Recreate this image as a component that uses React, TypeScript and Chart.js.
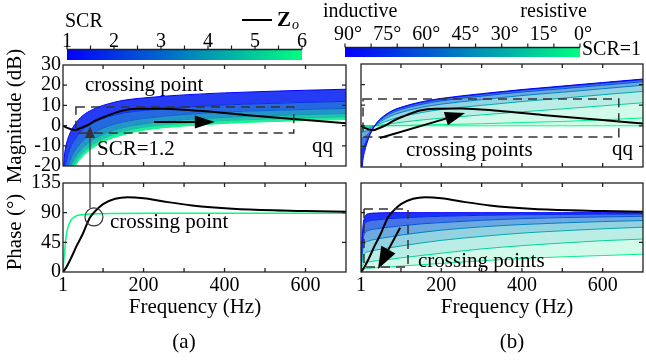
import React, { useEffect, useRef } from 'react';
import { Chart, registerables } from 'chart.js';
Chart.register(...registerables);

// ---------------- data ----------------
const freqTicks = [1, 100, 200, 300, 400, 500, 600, 700];
const freqLabels = [1, 200, 400, 600];
const magTicks = [-20, -10, 0, 10, 20, 30];
const phaseTicks = [0, 45, 90, 135];

const scrLevels = [1, 2, 3, 4, 5, 6];
const scrBarTicks = [1, 2, 3, 4, 5, 6];
const scrBarMinor = [1, 1.5, 2, 2.5, 3, 3.5, 4, 4.5, 5, 5.5, 6];
const angleLevels = [90, 75, 60, 45, 30, 15, 5, 0];
const angleBarTicks = [90, 75, 60, 45, 30, 15, 0];
const angleBarMinor = [90, 80, 70, 60, 50, 40, 30, 20, 10, 0];

// (a) magnitude, one curve per SCR
const freqMagA = [1, 5, 10, 20, 30, 50, 75, 100, 150, 200, 300, 400, 500, 600, 700];
const magScr1 = [-25, -14, -8.6, -3, 0.5, 5, 8, 10, 12.5, 13.7, 15.2, 16.2, 16.9, 17.5, 18];
const magScr2 = [-35, -23, -17, -10.5, -7, -2, 1.3, 3.5, 6.2, 7.5, 9.1, 10.2, 10.9, 11.5, 12];
const magScr3 = [-40, -30, -23, -16.5, -12.5, -7.5, -3.8, -1.2, 1.8, 3.5, 5.5, 6.7, 7.4, 8, 8.5];
const magScr4 = [-45, -35, -28, -20, -16, -11, -7, -4.3, -1, 0.8, 2.9, 4.1, 4.9, 5.5, 6];
const magScr5 = [-48, -38, -31, -23, -18.5, -13.3, -9.3, -6.4, -2.9, -0.8, 1.2, 2.5, 3.2, 3.8, 4.3];
const magScr6 = [-50, -40, -34, -25, -20.5, -15, -11, -8, -4.5, -2.3, -0.2, 1.1, 1.9, 2.5, 3];

// (a) phase of the grid impedance (all SCR overlap)
const freqPhaseA = [1, 3, 5, 8, 12, 20, 30, 50, 100, 200, 400, 700];
const phaseGridA = [2, 18, 30, 50, 65, 78, 84, 87, 88.5, 89, 89, 89];

// (b) magnitude, one curve per impedance angle (SCR = 1)
const freqMagB = [1, 5, 10, 20, 35, 50, 75, 100, 150, 200, 300, 400, 500, 600, 700];
const magAng90 = [-30, -18, -12.5, -6, 0, 3.5, 7, 9, 11.6, 13.3, 15.6, 17.6, 19.3, 21, 22.7];
const magAng75 = [-11.7, -10.9, -9.2, -5.2, 0, 3.4, 6.8, 8.7, 11.3, 13, 15.3, 17.3, 19, 20.7, 22.4];
const magAng60 = [-6, -5.8, -5.4, -3.6, 0, 2.9, 6, 7.9, 10.4, 12.1, 14.4, 16.4, 18, 19.7, 21.4];
const magAng45 = [-3, -2.9, -2.8, -2, 0, 2.1, 4.8, 6.5, 8.9, 10.5, 12.7, 14.7, 16.3, 18, 19.7];
const magAng30 = [-1.2, -1.2, -1.2, -0.9, 0, 1.2, 3, 4.4, 6.4, 7.9, 9.9, 11.8, 13.4, 15.1, 16.7];
const magAng15 = [-0.3, -0.3, -0.3, -0.2, 0, 0.4, 1, 1.7, 2.8, 3.7, 5.3, 6.8, 8.2, 9.7, 11.2];
const magAng5 = [0, 0, 0, 0, 0, 0, 0.1, 0.2, 0.4, 0.6, 1, 1.6, 2.1, 2.9, 3.8];
const magAng0 = [0, 0, 0, 0, 0, 0, 0, 0, 0, 0, 0, 0, 0, 0, 0];

// (b) phase, one curve per impedance angle
const freqPhaseB = [1, 3, 6, 10, 20, 40, 70, 100, 150, 200, 300, 400, 500, 600, 700];
const phAng90 = [3, 40, 70, 83, 88.5, 89.5, 90, 90, 90, 90, 90, 90, 90, 90, 90];
const phAng75 = [3, 35, 60, 72, 77, 79, 81, 82, 83.5, 84.5, 86, 86.8, 87.3, 87.7, 88];
const phAng60 = [2, 28, 48, 58, 63, 65.5, 68, 70, 73, 75, 78.5, 81, 82.5, 83.5, 84.5];
const phAng45 = [2, 20, 35, 43, 47, 50, 53, 56, 60, 63.5, 68.5, 72, 74.5, 76.5, 78];
const phAng30 = [1, 13, 23, 28, 31, 33.5, 36.5, 39.5, 44, 48, 54, 59, 62.5, 65.5, 68];
const phAng15 = [0.5, 7, 11, 14, 15.5, 17, 19, 21.5, 25, 28.5, 35, 40, 44, 47.5, 50];
const phAng5 = [0.2, 2, 4, 5, 5.5, 6.5, 7.5, 9, 11, 13, 17, 20.5, 23, 25, 27];
const phAng0 = [0, 0, 0, 0, 0, 0, 0, 0, 0, 0, 0, 0, 0, 0, 0];

// converter output impedance Zo
const freqZo = [1, 10, 30, 45, 63, 80, 105, 147, 186, 250, 340, 450, 585, 700];
const zoMag = [0, -1, -2.2, -1.2, 0.3, 2.3, 4.5, 7.4, 8.3, 8.4, 7.3, 5.3, 3, 1.1];
const freqZoPh = [1, 10, 20, 35, 50, 67, 80, 100, 130, 160, 200, 260, 320, 420, 520, 600, 700];
const zoPhase = [0, 8, 20, 40, 58, 82, 92, 103, 111, 113.5, 112, 106, 101, 96, 93.5, 92.5, 91.5];

// ---------------- layout / style ----------------
const W = 646;
const H = 360;
const FONT = '"Liberation Serif", "Times New Roman", Times, serif';
const Y_W = 40;
const X_H = 30;
type Area = { l: number; t: number; r: number; b: number };
const AREA_A_TOP: Area = { l: 63, t: 65, r: 346, b: 166 };
const AREA_A_BOT: Area = { l: 63, t: 183, r: 346, b: 272 };
const AREA_B_TOP: Area = { l: 361, t: 64, r: 643, b: 167 };
const AREA_B_BOT: Area = { l: 361, t: 183, r: 643, b: 272 };

const cmap = (t: number, a = 1) =>
  `rgba(0,${Math.round(255 * t)},${Math.round(255 - 127 * t)},${a})`;

const pts = (xs: number[], ys: number[]) => xs.map((x, i) => ({ x, y: ys[i] }));

const alphaDense = (_t: number) => 0.85;
const alphaSparse = (t: number) => Math.max(0.18, 0.95 - 0.9 * t);

function fanDatasets(
  xs: number[],
  curves: number[][],
  ts: number[],
  fillLast: boolean,
  alphaOf: (t: number) => number
) {
  return curves.map((ys, i) => {
    const tMid = i === 0 ? ts[0] : (ts[i] + ts[i - 1]) / 2;
    const doFill = i > 0 && (fillLast || i < curves.length - 1);
    return {
      data: pts(xs, ys),
      borderColor: cmap(ts[i]),
      borderWidth: 1,
      pointRadius: 0,
      cubicInterpolationMode: 'monotone',
      fill: doFill ? '-1' : false,
      backgroundColor: cmap(tMid, alphaOf(tMid)),
      order: 1,
    };
  });
}

function zoDataset(xs: number[], ys: number[]) {
  return {
    data: pts(xs, ys),
    borderColor: '#000',
    borderWidth: 2,
    pointRadius: 0,
    cubicInterpolationMode: 'monotone',
    fill: false,
    order: 0,
  };
}

function drawFrame(chart: any) {
  const { ctx, chartArea: a, scales } = chart;
  ctx.save();
  ctx.strokeStyle = '#222';
  ctx.lineWidth = 1.3;
  ctx.beginPath();
  for (const t of scales.x.ticks) {
    const p = scales.x.getPixelForValue(t.value);
    if (p <= a.left + 1 || p >= a.right - 1) continue;
    ctx.moveTo(p, a.bottom);
    ctx.lineTo(p, a.bottom - 4);
    ctx.moveTo(p, a.top);
    ctx.lineTo(p, a.top + 4);
  }
  for (const t of scales.y.ticks) {
    const p = scales.y.getPixelForValue(t.value);
    if (p <= a.top + 1 || p >= a.bottom - 1) continue;
    ctx.moveTo(a.left, p);
    ctx.lineTo(a.left + 4, p);
    ctx.moveTo(a.right, p);
    ctx.lineTo(a.right - 4, p);
  }
  ctx.stroke();
  ctx.strokeRect(a.left, a.top, a.right - a.left, a.bottom - a.top);
  ctx.restore();
}

const px = (chart: any, x: number, y: number): [number, number] => [
  chart.scales.x.getPixelForValue(x),
  chart.scales.y.getPixelForValue(y),
];

function dashedBox(chart: any, x0: number, x1: number, y0: number, y1: number) {
  const ctx = chart.ctx;
  const [a, b] = px(chart, x0, y1);
  const [c, d] = px(chart, x1, y0);
  ctx.save();
  ctx.setLineDash([9, 6]);
  ctx.strokeStyle = '#333';
  ctx.lineWidth = 1.5;
  ctx.strokeRect(a, b, c - a, d - b);
  ctx.restore();
}

function arrow(ctx: any, x0: number, y0: number, x1: number, y1: number, head: number, half: number, lw: number, color: string) {
  const ang = Math.atan2(y1 - y0, x1 - x0);
  const bx = x1 - head * Math.cos(ang);
  const by = y1 - head * Math.sin(ang);
  ctx.save();
  ctx.strokeStyle = color;
  ctx.fillStyle = color;
  ctx.lineWidth = lw;
  ctx.beginPath();
  ctx.moveTo(x0, y0);
  ctx.lineTo(bx, by);
  ctx.stroke();
  ctx.beginPath();
  ctx.moveTo(x1, y1);
  ctx.lineTo(bx + half * Math.sin(ang), by - half * Math.cos(ang));
  ctx.lineTo(bx - half * Math.sin(ang), by + half * Math.cos(ang));
  ctx.closePath();
  ctx.fill();
  ctx.restore();
}

function text(ctx: any, s: string, x: number, y: number, size: number, align = 'left', style = '') {
  ctx.save();
  ctx.font = `${style} ${size}px ${FONT}`;
  ctx.textAlign = align;
  ctx.textBaseline = 'alphabetic';
  ctx.fillStyle = '#000';
  ctx.fillText(s, x, y);
  ctx.restore();
}

function vtext(ctx: any, s: string, x: number, y: number, size: number) {
  ctx.save();
  ctx.translate(x, y);
  ctx.rotate(-Math.PI / 2);
  ctx.font = `${size}px ${FONT}`;
  ctx.textAlign = 'center';
  ctx.textBaseline = 'middle';
  ctx.fillStyle = '#000';
  ctx.fillText(s, 0, 0);
  ctx.restore();
}

function colorBar(ctx: any, x0: number, x1: number, y0: number, y1: number) {
  ctx.save();
  const g = ctx.createLinearGradient(x0, 0, x1, 0);
  g.addColorStop(0, cmap(0));
  g.addColorStop(0.5, cmap(0.5));
  g.addColorStop(1, cmap(1));
  ctx.fillStyle = g;
  ctx.fillRect(x0, y0, x1 - x0, y1 - y0);
  ctx.strokeStyle = '#222';
  ctx.lineWidth = 1.3;
  ctx.beginPath();
  ctx.moveTo(x0, y0);
  ctx.lineTo(x1, y0);
  ctx.stroke();
  ctx.restore();
}

function barTicks(ctx: any, xs: number[], y: number) {
  ctx.save();
  ctx.strokeStyle = '#222';
  ctx.lineWidth = 1.2;
  ctx.beginPath();
  xs.forEach((x) => {
    ctx.moveTo(x, y);
    ctx.lineTo(x, y - 4);
  });
  ctx.stroke();
  ctx.restore();
}

function buildConfig(o: {
  area: Area;
  datasets: any[];
  yMin: number;
  yMax: number;
  yTicks: number[];
  showY: boolean;
  showX: boolean;
  draw: (chart: any) => void;
}) {
  const a = o.area;
  const tickFont = { family: FONT, size: 20 };
  return {
    type: 'line',
    data: { datasets: o.datasets },
    options: {
      responsive: false,
      maintainAspectRatio: false,
      animation: false,
      events: [],
      layout: { padding: { left: a.l - Y_W, top: a.t, right: W - a.r, bottom: H - a.b - X_H } },
      plugins: { legend: { display: false }, tooltip: { enabled: false } },
      scales: {
        x: {
          type: 'linear',
          min: 1,
          max: 700,
          afterBuildTicks: (s: any) => {
            s.ticks = freqTicks.map((v) => ({ value: v }));
          },
          afterFit: (s: any) => {
            s.height = X_H;
          },
          grid: { display: false, drawTicks: false },
          border: { display: false },
          ticks: {
            display: o.showX,
            autoSkip: false,
            maxRotation: 0,
            padding: 2,
            font: tickFont,
            color: '#000',
            callback: (v: number) => (freqLabels.includes(v) ? String(v) : ''),
          },
        },
        y: {
          type: 'linear',
          min: o.yMin,
          max: o.yMax,
          afterBuildTicks: (s: any) => {
            s.ticks = o.yTicks.map((v) => ({ value: v }));
          },
          afterFit: (s: any) => {
            s.width = Y_W;
          },
          grid: { display: false, drawTicks: false },
          border: { display: false },
          ticks: {
            display: o.showY,
            autoSkip: false,
            padding: 2,
            font: tickFont,
            color: '#000',
            callback: (v: number) => String(v),
          },
        },
      },
    },
    plugins: [
      {
        id: 'decor',
        afterDatasetsDraw(chart: any) {
          o.draw(chart);
          drawFrame(chart);
        },
      },
    ],
  } as any;
}

export default function App() {
  const c1 = useRef<HTMLCanvasElement>(null);
  const c2 = useRef<HTMLCanvasElement>(null);
  const c3 = useRef<HTMLCanvasElement>(null);
  const c4 = useRef<HTMLCanvasElement>(null);

  useEffect(() => {
    const scrT = scrLevels.map((s) => (s - 1) / 5);
    const angT = angleLevels.map((a) => (90 - a) / 90);

    // ---- (a) magnitude ----
    const aTop = new Chart(
      c1.current as HTMLCanvasElement,
      buildConfig({
        area: AREA_A_TOP,
        datasets: [
          ...fanDatasets(freqMagA, [magScr1, magScr2, magScr3, magScr4, magScr5, magScr6], scrT, true, alphaDense),
          zoDataset(freqZo, zoMag),
        ],
        yMin: -20,
        yMax: 30,
        yTicks: magTicks,
        showY: true,
        showX: false,
        draw: (chart) => {
          const ctx = chart.ctx;
          dashedBox(chart, 33, 571, -3.7, 9.2);
          const [ax0, ay] = px(chart, 226, 1.8);
          const [ax1] = px(chart, 376, 1.8);
          arrow(ctx, ax0, ay, ax1, ay, 20, 6.5, 2, '#000');
          text(ctx, 'crossing point', 85, 91, 21);
          text(ctx, 'SCR=1.2', 97, 155, 21);
          text(ctx, 'qq', 312, 152, 21);
          vtext(ctx, 'Magnitude (dB)', 15, 116, 21);
          // SCR colour bar
          const bx0 = 67;
          const bx1 = 302;
          colorBar(ctx, bx0, bx1, 49.5, 60);
          const sx = (v: number) => bx0 + ((v - 1) / 5) * (bx1 - bx0);
          barTicks(ctx, scrBarMinor.map(sx), 49.5);
          scrBarTicks.forEach((v) => text(ctx, String(v), sx(v), 47, 20, 'center'));
          text(ctx, 'SCR', 65, 27, 20);
          // legend Zo
          ctx.save();
          ctx.strokeStyle = '#000';
          ctx.lineWidth = 2;
          ctx.beginPath();
          ctx.moveTo(242, 20);
          ctx.lineTo(272, 20);
          ctx.stroke();
          ctx.restore();
          text(ctx, 'Z', 277, 26, 21, 'left', 'bold');
          text(ctx, 'o', 292, 29, 14, 'left', 'italic');
        },
      })
    );

    // ---- (a) phase ----
    const aBot = new Chart(
      c2.current as HTMLCanvasElement,
      buildConfig({
        area: AREA_A_BOT,
        datasets: [
          {
            data: pts(freqPhaseA, phaseGridA),
            borderColor: cmap(1),
            borderWidth: 1.5,
            pointRadius: 0,
            cubicInterpolationMode: 'monotone',
            fill: false,
            order: 1,
          },
          zoDataset(freqZoPh, zoPhase),
        ],
        yMin: 0,
        yMax: 135,
        yTicks: phaseTicks,
        showY: true,
        showX: true,
        draw: (chart) => {
          const ctx = chart.ctx;
          const [cx, cy] = px(chart, 77.5, 83.5);
          ctx.save();
          ctx.strokeStyle = '#333';
          ctx.lineWidth = 1.2;
          ctx.beginPath();
          ctx.arc(cx, cy, 9, 0, Math.PI * 2);
          ctx.stroke();
          ctx.restore();
          const [vx, vy0] = px(chart, 67.7, 97);
          const vy1 = aTop.scales.y.getPixelForValue(-0.2);
          arrow(ctx, vx, vy0, vx, vy1, 12, 5, 1.2, '#333');
          text(ctx, 'crossing point', 110, 228, 21);
          text(ctx, 'Frequency (Hz)', 195, 313, 21, 'center');
          text(ctx, '(a)', 184, 348, 21, 'center');
          vtext(ctx, 'Phase (°)', 15, 232, 21);
        },
      })
    );

    // ---- (b) magnitude ----
    const bTop = new Chart(
      c3.current as HTMLCanvasElement,
      buildConfig({
        area: AREA_B_TOP,
        datasets: [
          ...fanDatasets(
            freqMagB,
            [magAng90, magAng75, magAng60, magAng45, magAng30, magAng15, magAng5, magAng0],
            angT,
            true,
            alphaSparse
          ),
          zoDataset(freqZo, zoMag),
        ],
        yMin: -20,
        yMax: 30,
        yTicks: magTicks,
        showY: false,
        showX: false,
        draw: (chart) => {
          const ctx = chart.ctx;
          dashedBox(chart, 6, 640, -5.4, 13);
          const [x0, y0] = px(chart, 48, -5.9);
          const [x1, y1] = px(chart, 259, 6.2);
          arrow(ctx, x0, y0, x1, y1, 20, 7, 2, '#000');
          text(ctx, 'crossing points', 406, 156, 21);
          text(ctx, 'qq', 612, 155, 21);
          // angle colour bar
          const bx0 = 345;
          const bx1 = 580;
          colorBar(ctx, bx0, bx1, 47.5, 57);
          const ax = (v: number) => bx0 + ((90 - v) / 90) * (bx1 - bx0);
          barTicks(ctx, angleBarMinor.map(ax), 47.5);
          angleBarTicks.forEach((v) => text(ctx, `${v}°`, ax(v) + 3, 40, 20, 'center'));
          text(ctx, 'inductive', 323, 17, 20);
          text(ctx, 'resistive', 587, 17, 20, 'right');
          text(ctx, 'SCR=1', 582, 55, 20);
        },
      })
    );

    // ---- (b) phase ----
    const bBot = new Chart(
      c4.current as HTMLCanvasElement,
      buildConfig({
        area: AREA_B_BOT,
        datasets: [
          ...fanDatasets(
            freqPhaseB,
            [phAng90, phAng75, phAng60, phAng45, phAng30, phAng15, phAng5, phAng0],
            angT,
            false,
            alphaSparse
          ),
          zoDataset(freqZoPh, zoPhase),
        ],
        yMin: 0,
        yMax: 135,
        yTicks: phaseTicks,
        showY: false,
        showX: true,
        draw: (chart) => {
          const ctx = chart.ctx;
          dashedBox(chart, 8.4, 117.5, 7.6, 95.6);
          const [x0, y0] = px(chart, 98, 67);
          const [x1, y1] = px(chart, 43, 4.5);
          arrow(ctx, x0, y0, x1, y1, 22, 8, 2, '#000');
          text(ctx, 'crossing points', 418, 267, 21);
          text(ctx, 'Frequency (Hz)', 507, 313, 21, 'center');
          text(ctx, '(b)', 512, 348, 21, 'center');
        },
      })
    );

    return () => {
      bBot.destroy();
      bTop.destroy();
      aBot.destroy();
      aTop.destroy();
    };
  }, []);

  const cs: React.CSSProperties = { position: 'absolute', left: 0, top: 0 };
  return (
    <div style={{ position: 'fixed', left: 0, top: 0, width: W, height: H, background: '#fff' }}>
      <canvas ref={c1} width={W} height={H} style={cs} />
      <canvas ref={c2} width={W} height={H} style={cs} />
      <canvas ref={c3} width={W} height={H} style={cs} />
      <canvas ref={c4} width={W} height={H} style={cs} />
    </div>
  );
}
